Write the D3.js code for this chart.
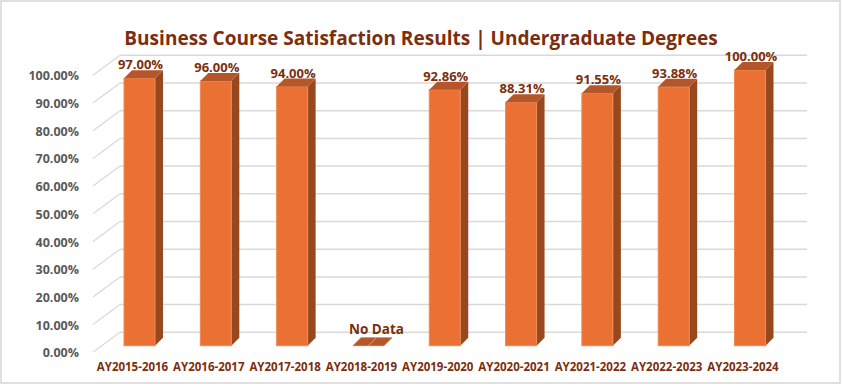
<!DOCTYPE html>
<html>
<head>
<meta charset="utf-8">
<script src="https://cdn.jsdelivr.net/npm/d3@7"></script>
<style>
  body { margin:0; background:#fff; }
  svg text { font-family: "Open Sans", "DejaVu Sans", sans-serif; font-weight:bold; }
</style>
</head>
<body>
<svg id="chart" width="842" height="386"></svg>
<script>
// chart data
var categories = ["AY2015-2016","AY2016-2017","AY2017-2018","AY2018-2019","AY2019-2020","AY2020-2021","AY2021-2022","AY2022-2023","AY2023-2024"];
var values = [97.00, 96.00, 94.00, null, 92.86, 88.31, 91.55, 93.88, 100.00];
var noDataLabel = "No Data";
var title = "Business Course Satisfaction Results | Undergraduate Degrees";

var svg = d3.select("#chart");

// outer frame
svg.append("rect")
    .attr("x",1).attr("y",1).attr("width",839).attr("height",382)
    .attr("fill","#fff").attr("stroke","#d6d6d6").attr("stroke-width",1.5);

// title - shrink font so it spans about the same width as the reference
var titleText = svg.append("text")
    .attr("x",421).attr("y",45)
    .attr("text-anchor","middle")
    .attr("font-size",21)
    .attr("fill","#7B2E0E")
    .text(title);
var natural = titleText.node().getComputedTextLength();
if (natural > 594) titleText.attr("font-size", 21 * 594 / natural);

// 3d wall geometry
var wallDx = 27, wallDy = 20;
var backLeft = 120, backRight = 807;
var yBack = d3.scaleLinear().domain([0,100]).range([332.3,55.3]);
var yBar  = d3.scaleLinear().domain([0,100]).range([345.7,70]);
var x = d3.scalePoint().domain(categories).range([139.5,750]);
var barW = 31, depth = 8;

var ticks = yBack.ticks(10);
var fmt = function(d){ return d3.format(".2f")(d) + "%"; };

var grid = svg.append("g");
ticks.forEach(function(t){
    // side wall diagonal
    grid.append("line")
        .attr("x1",backLeft - wallDx).attr("y1",yBack(t) + wallDy)
        .attr("x2",backLeft).attr("y2",yBack(t))
        .attr("stroke","#d9d9d9").attr("stroke-width",1.2);
    // back wall
    grid.append("line")
        .attr("x1",backLeft).attr("y1",yBack(t))
        .attr("x2",backRight).attr("y2",yBack(t))
        .attr("stroke","#d9d9d9").attr("stroke-width",1.5);
    // tick label
    grid.append("text")
        .attr("x",79).attr("y",yBack(t) + wallDy + 5)
        .attr("text-anchor","end")
        .attr("font-size",12.5)
        .attr("fill","#595959")
        .text(fmt(t));
});

// bars
var bars = svg.append("g");
categories.forEach(function(c,i){
    var v = values[i];
    var cx = x(c);
    var x0 = cx - barW/2, x1 = cx + barW/2;
    var yb = yBar(0);
    var yt = yBar(v == null ? 0 : v);

    if (v != null) {
        // side face
        bars.append("polygon")
            .attr("points",[[x1,yt],[x1+depth,yt-depth],[x1+depth,yb-depth],[x1,yb]].join(" "))
            .attr("fill","#97481F");
        // front face
        bars.append("rect")
            .attr("x",x0).attr("y",yt).attr("width",barW).attr("height",yb-yt)
            .attr("fill","#EA7133").attr("stroke","#F08A50").attr("stroke-width",1);
    }
    // top face
    bars.append("polygon")
        .attr("points",[[x0,yt],[x0+depth,yt-depth],[x1+depth,yt-depth],[x1,yt]].join(" "))
        .attr("fill","#B4562A")
        .attr("stroke", v == null ? "#C9714A" : "none").attr("stroke-width",0.8);
    if (v == null) {
        bars.append("line")
            .attr("x1",cx).attr("y1",yt).attr("x2",cx+depth).attr("y2",yt-depth)
            .attr("stroke","#D9A083").attr("stroke-width",1);
    }

    // value label
    bars.append("text")
        .attr("x", v == null ? cx + 8 : cx + 1)
        .attr("y", v == null ? yt - 12 : yt - 9)
        .attr("text-anchor","middle")
        .attr("font-size", v == null ? 13.5 : 13)
        .attr("fill","#7B2E0E")
        .text(v == null ? noDataLabel : fmt(v));

    // category label
    bars.append("text")
        .attr("x",cx - 7).attr("y",371)
        .attr("text-anchor","middle")
        .attr("font-size",11.5)
        .attr("fill","#7B2E0E")
        .text(c);
});
</script>
</body>
</html>
